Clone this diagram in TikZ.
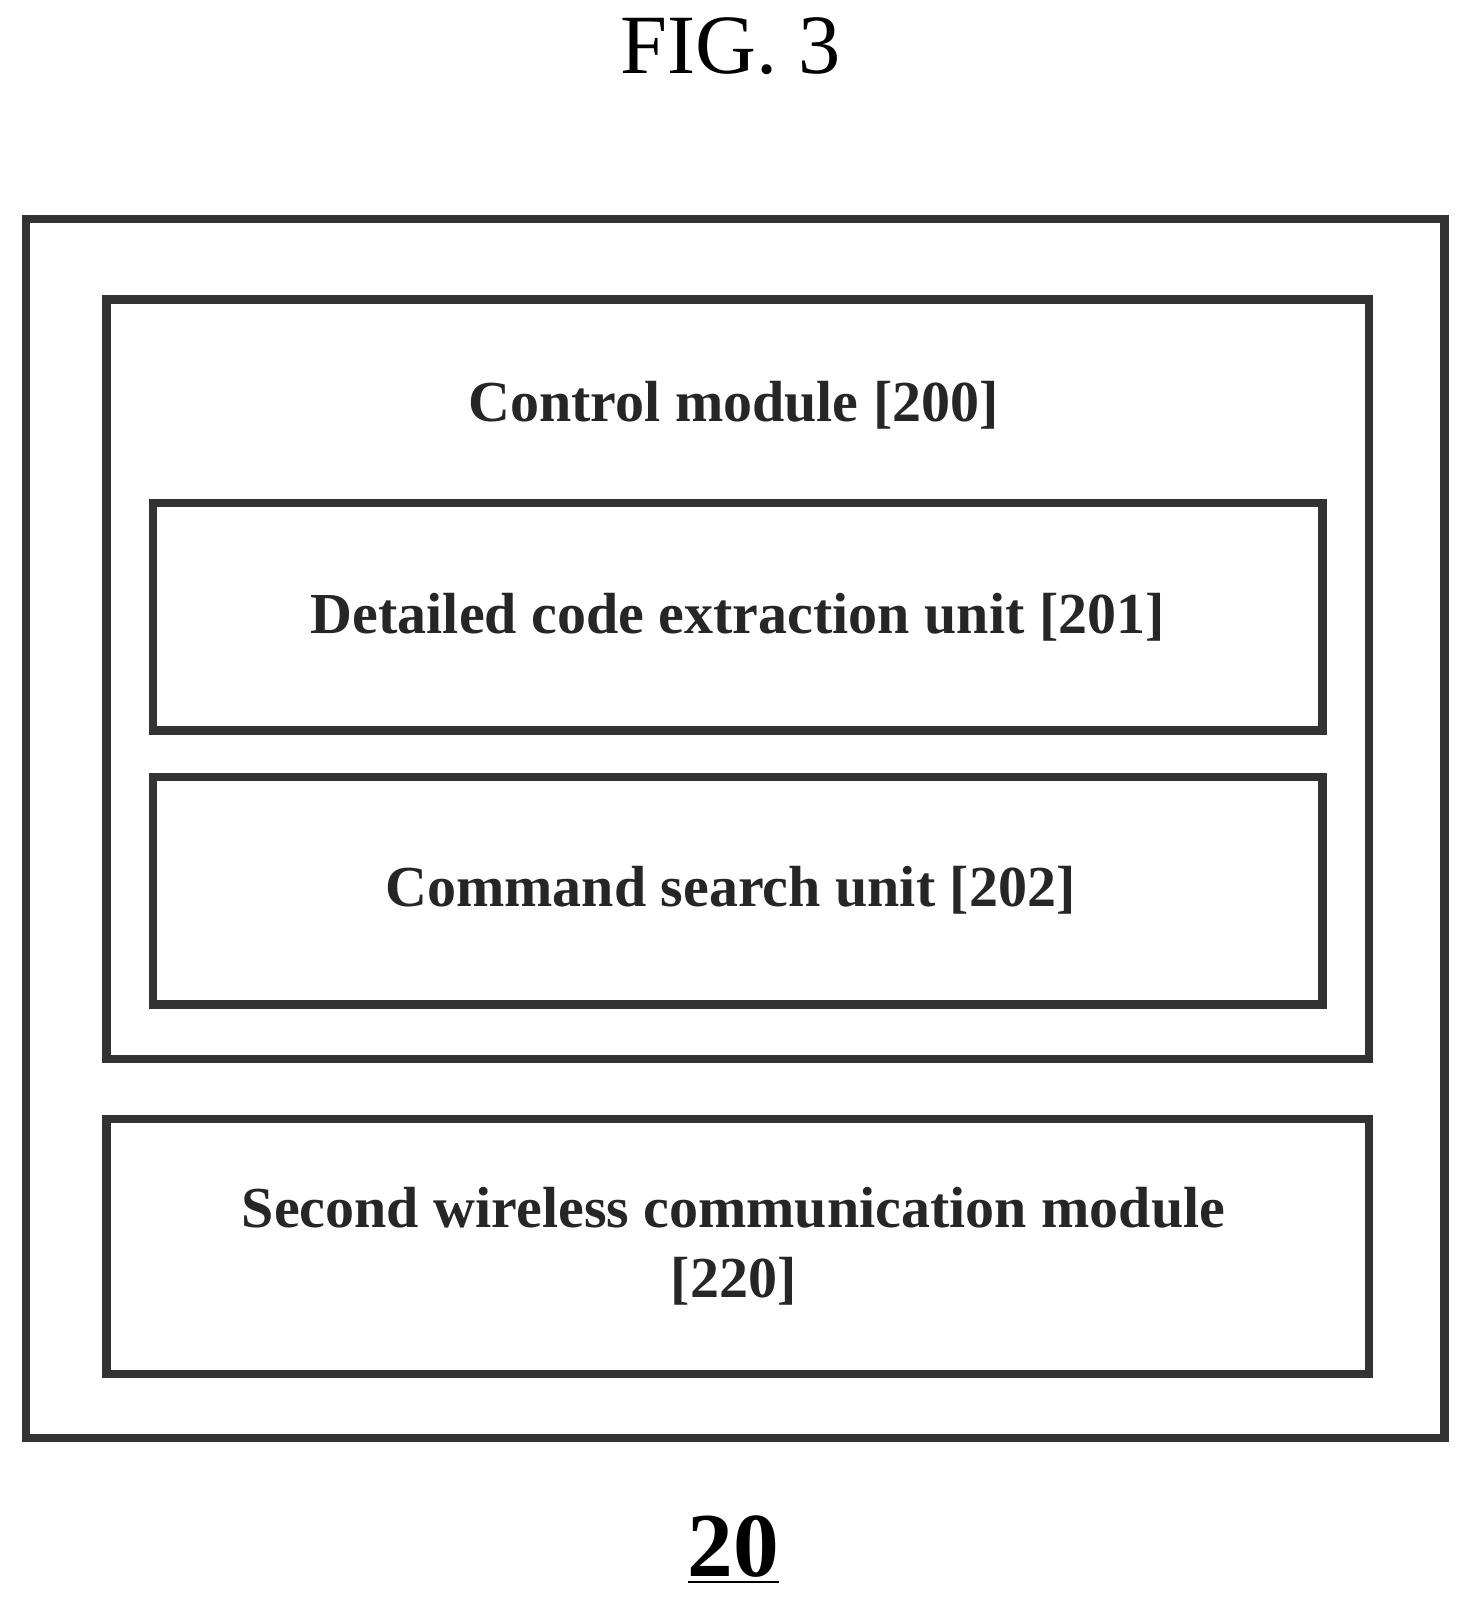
\documentclass[tikz,border=0pt]{standalone}
\usepackage{fontspec}
\setmainfont{Liberation Serif}
\begin{document}
\begin{tikzpicture}[x=0.01033cm,y=-0.01033cm,
    box/.style={draw=black!80, line width=2.4pt},
    lbl/.style={font=\fontsize{16.5}{20}\selectfont\bfseries, text=black!85, align=center}]

    \useasboundingbox (0,0) rectangle (1418,1566);

    \node[font=\fontsize{24}{29}\selectfont] (title) at (707,45) {FIG. 3};

    \draw[box] (25,212) rectangle (1398,1392);
    \draw[box] (103,290) rectangle (1325,1025);
    \draw[box] (148,487) rectangle (1280,707);
    \draw[box] (148,752) rectangle (1280,972);
    \draw[box] (103,1083) rectangle (1325,1330);

    \node[lbl] (ctrl) at (710,392) {Control module [200]};
    \node[lbl] (extract) at (714,597) {Detailed code extraction unit [201]};
    \node[lbl] (search) at (707,862) {Command search unit [202]};
    \node[lbl] (wireless) at (710,1206) {Second wireless communication module\\{}[220]};

    \node[font=\fontsize{26}{31}\selectfont\bfseries] (num) at (710,1500) {\underline{20}};

\end{tikzpicture}
\end{document}
